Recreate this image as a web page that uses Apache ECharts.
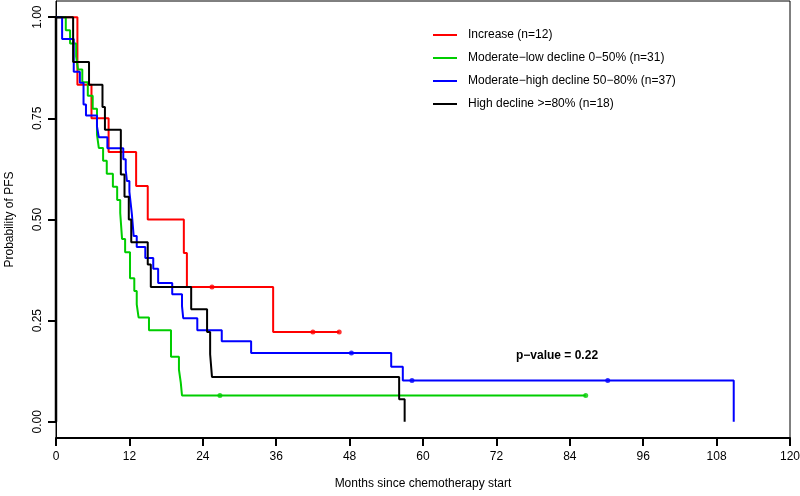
<!DOCTYPE html>
<html>
<head>
<meta charset="utf-8">
<script src="https://cdn.jsdelivr.net/npm/echarts@6/dist/echarts.min.js"></script>
<style>
html,body{margin:0;padding:0;background:#fff;}
#chart{width:800px;height:496px;}
</style>
</head>
<body>
<div id="chart"></div>
<script>
// ---- Data ----
const seriesNames = ['Increase (n=12)', 'Moderate\u2212low decline 0\u221250% (n=31)', 'Moderate\u2212high decline 50\u221280% (n=37)', 'High decline >=80% (n=18)'];

const incTimes = [0, 3.5, 5.8, 8.6, 13.1, 15.0, 20.9, 21.4, 35.5, 46.3];
const incSurv  = [1, 0.833, 0.75, 0.667, 0.583, 0.5, 0.417, 0.333, 0.222, 0.222];
const incCensorT = [25.5, 42.0, 46.3];
const incCensorS = [0.333, 0.222, 0.222];

const lowTimes = [0, 1.6, 2.3, 3.3, 3.6, 4.3, 5.2, 6.0, 6.7, 7.0, 7.7, 8.3, 9.3, 10.0, 10.5, 10.8, 11.3, 12.1, 12.8, 13.2, 13.5, 15.2, 18.8, 20.1, 20.4, 20.6, 86.6];
const lowSurv  = [1, 0.968, 0.935, 0.903, 0.871, 0.839, 0.806, 0.774, 0.710, 0.677, 0.645, 0.613, 0.581, 0.548, 0.516, 0.452, 0.419, 0.355, 0.323, 0.290, 0.258, 0.226, 0.161, 0.129, 0.097, 0.065, 0.065];
const lowCensorT = [26.8, 86.6];
const lowCensorS = [0.065, 0.065];

const modTimes = [0, 1.0, 2.9, 3.9, 4.5, 4.9, 6.7, 7.0, 8.4, 11.0, 11.4, 11.6, 12.0, 12.2, 12.4, 12.7, 13.2, 14.6, 15.9, 16.7, 19.0, 20.6, 20.8, 23.1, 27.1, 31.9, 54.8, 56.7, 110.8];
const modSurv  = [1, 0.946, 0.865, 0.838, 0.784, 0.757, 0.730, 0.703, 0.676, 0.649, 0.622, 0.595, 0.568, 0.541, 0.514, 0.459, 0.432, 0.405, 0.378, 0.343, 0.315, 0.286, 0.256, 0.226, 0.199, 0.170, 0.136, 0.102, 0];
const modCensorT = [48.3, 58.2, 90.2];
const modCensorS = [0.170, 0.102, 0.102];

const highTimes = [0, 2.8, 5.4, 7.6, 8.0, 10.6, 11.2, 11.9, 12.3, 15.0, 15.5, 22.1, 24.7, 25.2, 25.5, 56.1, 57.0];
const highSurv  = [1, 0.889, 0.833, 0.778, 0.722, 0.611, 0.556, 0.5, 0.444, 0.389, 0.333, 0.278, 0.222, 0.167, 0.111, 0.056, 0];
const highCensorT = [];
const highCensorS = [];

const xTicks = [0, 12, 24, 36, 48, 60, 72, 84, 96, 108, 120];
const yTicks = [0, 0.25, 0.5, 0.75, 1];
const pValueText = 'p\u2212value = 0.22';
// ---------------------------------------------------

const colors = ['#FF0000', '#00CD00', '#0000FF', '#000000'];
const FONT = '"Liberation Sans", Arial, sans-serif';

function zip(a, b) { return a.map((v, i) => [v, b[i]]); }

const curves = [
  [incTimes, incSurv, incCensorT, incCensorS],
  [lowTimes, lowSurv, lowCensorT, lowCensorS],
  [modTimes, modSurv, modCensorT, modCensorS],
  [highTimes, highSurv, highCensorT, highCensorS]
];

const series = [];
curves.forEach((c, i) => {
  series.push({
    name: seriesNames[i],
    type: 'line',
    step: 'end',
    data: zip(c[0], c[1]),
    showSymbol: false,
    symbol: 'none',
    lineStyle: { color: colors[i], width: 2 },
    itemStyle: { color: colors[i] },
    z: 3 + i,
    silent: true,
    clip: false,
    animation: false
  });
  if (c[2].length) {
    series.push({
      name: seriesNames[i],
      type: 'scatter',
      data: zip(c[2], c[3]),
      symbol: 'circle',
      symbolSize: 5,
      itemStyle: { color: colors[i] },
      z: 10,
      silent: true,
      animation: false
    });
  }
});

// left axis segment (R draws axis only between first and last tick)
series.push({
  type: 'line',
  data: [[0, yTicks[0]], [0, yTicks[yTicks.length - 1]]],
  showSymbol: false,
  symbol: 'none',
  lineStyle: { color: '#000', width: 2.5 },
  clip: false,
  silent: true,
  z: 20,
  animation: false
});

const chart = echarts.init(document.getElementById('chart'), null, { renderer: 'canvas' });
chart.setOption({
  animation: false,
  backgroundColor: '#ffffff',
  textStyle: { fontFamily: FONT },
  grid: {
    left: 56, right: 10, top: 1, bottom: 58,
    containLabel: false,
    outerBoundsMode: 'none',
    show: true, borderColor: '#000', borderWidth: 1, backgroundColor: 'transparent'
  },
  legend: {
    orient: 'vertical',
    left: 433,
    top: 28,
    padding: 0,
    itemWidth: 24,
    itemHeight: 2,
    itemGap: 9,
    icon: 'rect',
    data: seriesNames.map((n, i) => ({ name: n, itemStyle: { color: colors[i] } })),
    textStyle: { fontFamily: FONT, fontSize: 12, color: '#000', lineHeight: 14, padding: [0, 0, 0, 6] },
    selectedMode: false
  },
  xAxis: {
    type: 'value',
    min: 0, max: 120, interval: 12,
    name: 'Months since chemotherapy start',
    nameLocation: 'middle',
    nameGap: 40,
    nameTextStyle: { fontFamily: FONT, fontSize: 12, color: '#000' },
    axisLine: { show: true, onZero: false, lineStyle: { color: '#000', width: 2 } },
    axisTick: { show: true, length: 8, lineStyle: { color: '#000', width: 2 } },
    axisLabel: { color: '#000', fontSize: 12, fontFamily: FONT, margin: 13 },
    splitLine: { show: false }
  },
  yAxis: {
    type: 'value',
    min: -0.04, max: 1.04,
    name: 'Probability of PFS',
    nameLocation: 'middle',
    nameGap: 40,
    nameRotate: 90,
    nameTextStyle: { fontFamily: FONT, fontSize: 12, color: '#000' },
    axisLine: { show: true, onZero: false, lineStyle: { color: '#000', width: 1 } },
    axisTick: { show: true, length: 8, customValues: yTicks, lineStyle: { color: '#000', width: 2 } },
    axisLabel: {
      color: '#000', fontSize: 12, fontFamily: FONT, rotate: 90, margin: 12,
      customValues: yTicks,
      formatter: v => v.toFixed(2)
    },
    splitLine: { show: false }
  },
  graphic: [{
    type: 'text',
    left: 516,
    top: 350,
    style: { text: pValueText, font: 'bold 12px "Liberation Sans", Arial, sans-serif', fill: '#000' }
  }],
  series: series
});
</script>
</body>
</html>
